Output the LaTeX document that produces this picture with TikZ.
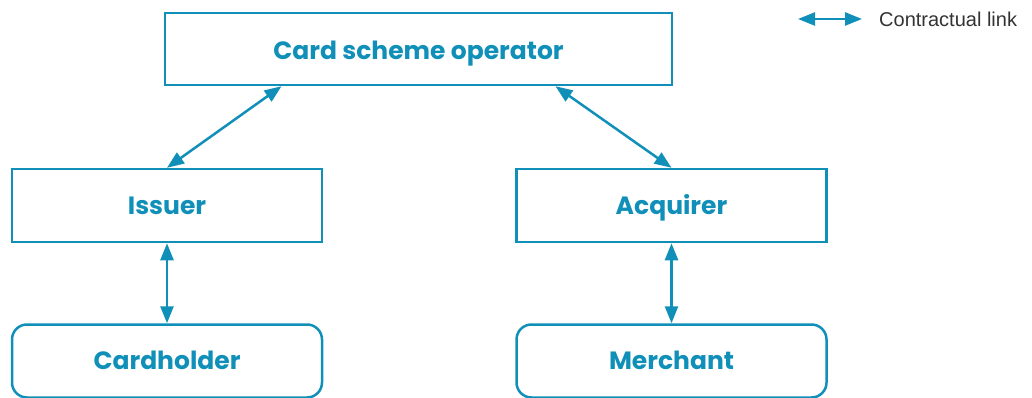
\documentclass[tikz,border=0pt]{standalone}
\usepackage{fontspec}
\setmainfont{Poppins}
\newfontfamily\legendfont{Liberation Sans}
\usepackage{xcolor}
\usetikzlibrary{arrows.meta,positioning,calc}
\definecolor{scheme}{RGB}{16,144,184}
\tikzstyle{arrow} = [line width=2.5pt,<->,>={Triangle[length=17pt,width=13pt]},draw=scheme,fill=scheme]
\tikzstyle{party} = [rectangle, draw=scheme, line width=2.5pt, text=scheme, font=\bfseries\fontsize{25}{30}\selectfont, text height=17pt, text depth=0pt, minimum width=310pt, minimum height=73pt]
\tikzstyle{enduser} = [party, rounded corners=15pt]

\begin{document}
\begin{tikzpicture}[x=1pt, y=1pt]
    \useasboundingbox (0,0) rectangle (1032,-398);
    \node[party, minimum width=507pt, minimum height=72pt] (operator) at (418.5,-49) {\raisebox{-2pt}{Card scheme operator}};
    \node[party] (issuer) at (167,-205.5) {Issuer};
    \node[party] (acquirer) at (671.5,-205.5) {Acquirer};
    \node[enduser] (cardholder) at (167,-361) {Cardholder};
    \node[enduser] (merchant) at (671.5,-361) {Merchant};
    \draw[arrow] (issuer.north) -- ([xshift=-137pt]operator.south);
    \draw[arrow] (acquirer.north) -- ([xshift=137pt]operator.south);
    \draw[arrow] (issuer) -- (cardholder);
    \draw[arrow] (acquirer) -- (merchant);
    % legend
    \coordinate (legstart) at (798,-19);
    \coordinate (legend) at (862,-19);
    \node[font=\legendfont\fontsize{20}{24}\selectfont, text=black!80, anchor=west, inner sep=0pt] (legtext) at (879,-19) {Contractual link};
    \draw[arrow] (legstart) -- (legend);
\end{tikzpicture}
\end{document}
